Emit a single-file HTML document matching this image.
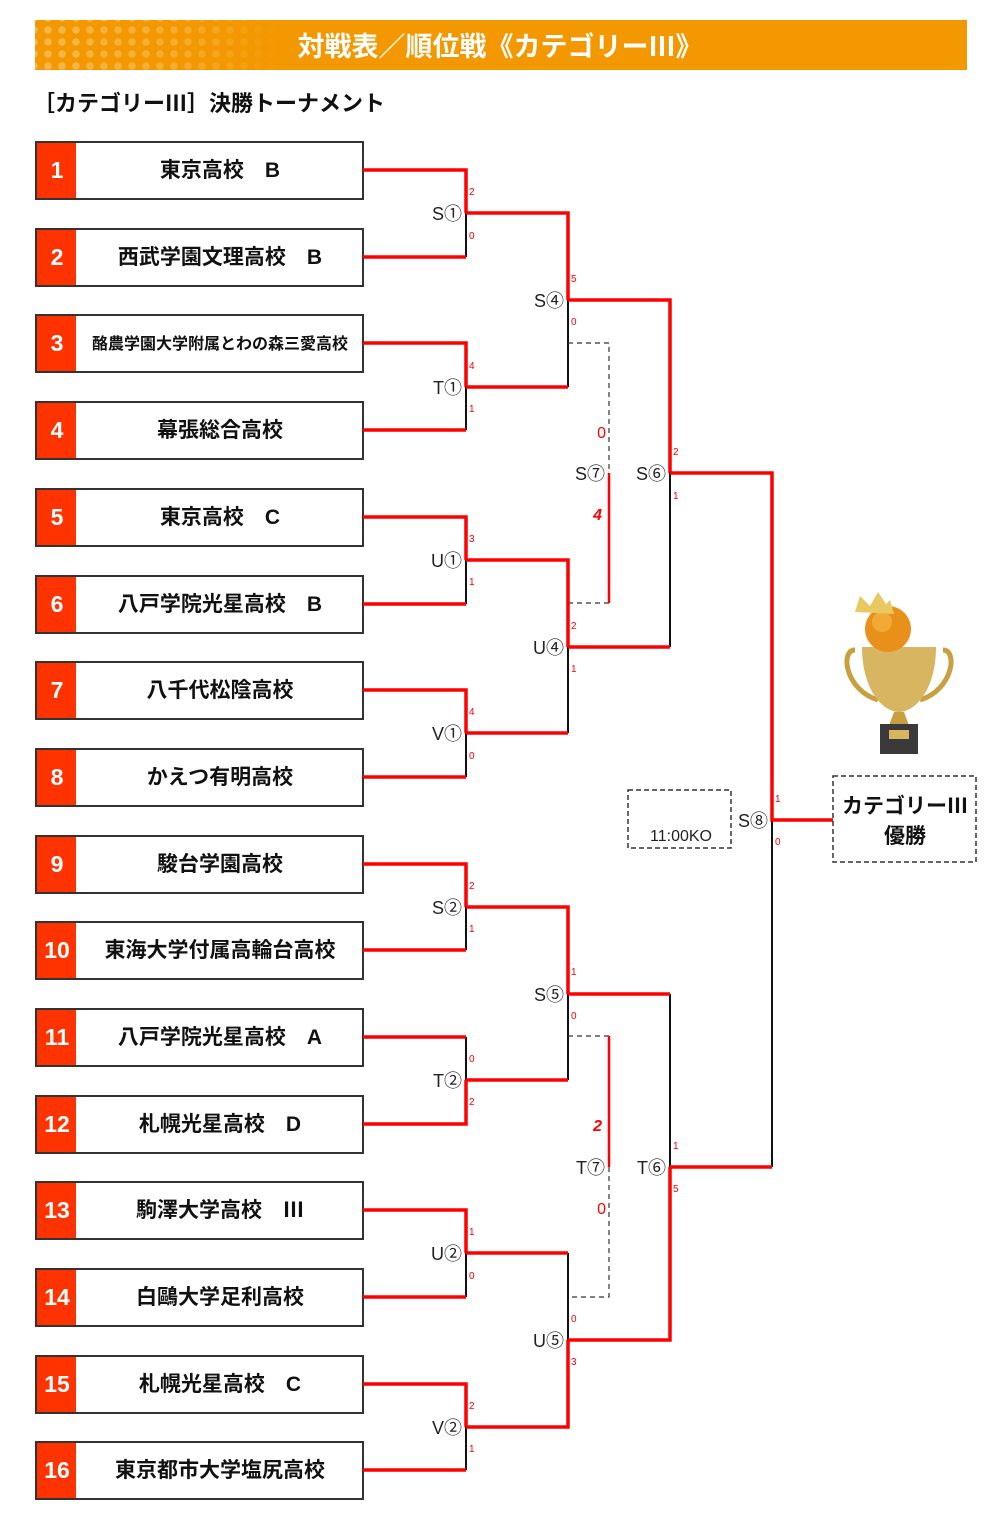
<!DOCTYPE html>
<html><head><meta charset="utf-8"><style>
body{margin:0;background:#fff;width:1001px;height:1523px;overflow:hidden;font-family:"Liberation Sans","Noto Sans CJK JP",sans-serif}
</style></head><body>
<svg width="1001" height="1523" xmlns="http://www.w3.org/2000/svg" style="position:absolute;left:0;top:0;font-family:'Liberation Sans','Noto Sans CJK JP',sans-serif">
<defs>
<pattern id="dots" width="14" height="12" patternUnits="userSpaceOnUse"><circle cx="6" cy="6" r="3.8" fill="#f7b84a"/></pattern>
<linearGradient id="fade" x1="0" x2="1"><stop offset="0" stop-color="#fff" stop-opacity="1"/><stop offset="0.6" stop-color="#fff" stop-opacity="0.6"/><stop offset="1" stop-color="#fff" stop-opacity="0"/></linearGradient>
<mask id="m"><rect x="35" y="20" width="250" height="50" fill="url(#fade)"/></mask>
</defs>
<rect x="35" y="20" width="932" height="50" fill="#f39800"/>
<rect x="35" y="20" width="250" height="50" fill="url(#dots)" mask="url(#m)"/>
<text x="500" y="56" font-size="27" font-weight="bold" fill="#fff" text-anchor="middle">対戦表／順位戦《カテゴリーⅢ》</text>
<text x="33" y="111" font-size="22" font-weight="bold" fill="#111">［カテゴリーⅢ］決勝トーナメント</text>
<g id="boxes" font-weight="bold">
<g fill="#fff" stroke="#333" stroke-width="2">
<rect x="36" y="142" width="327" height="57"/><rect x="36" y="229" width="327" height="57"/><rect x="36" y="315" width="327" height="57"/><rect x="36" y="402" width="327" height="57"/>
<rect x="36" y="489" width="327" height="57"/><rect x="36" y="576" width="327" height="57"/><rect x="36" y="662" width="327" height="57"/><rect x="36" y="749" width="327" height="57"/>
<rect x="36" y="836" width="327" height="57"/><rect x="36" y="922" width="327" height="57"/><rect x="36" y="1009" width="327" height="57"/><rect x="36" y="1096" width="327" height="57"/>
<rect x="36" y="1182" width="327" height="57"/><rect x="36" y="1269" width="327" height="57"/><rect x="36" y="1356" width="327" height="57"/><rect x="36" y="1442" width="327" height="57"/>
</g>
<g fill="#ff3300">
<rect x="37" y="143" width="39" height="55"/><rect x="37" y="230" width="39" height="55"/><rect x="37" y="316" width="39" height="55"/><rect x="37" y="403" width="39" height="55"/>
<rect x="37" y="490" width="39" height="55"/><rect x="37" y="577" width="39" height="55"/><rect x="37" y="663" width="39" height="55"/><rect x="37" y="750" width="39" height="55"/>
<rect x="37" y="837" width="39" height="55"/><rect x="37" y="923" width="39" height="55"/><rect x="37" y="1010" width="39" height="55"/><rect x="37" y="1097" width="39" height="55"/>
<rect x="37" y="1183" width="39" height="55"/><rect x="37" y="1270" width="39" height="55"/><rect x="37" y="1357" width="39" height="55"/><rect x="37" y="1443" width="39" height="55"/>
</g>
<g fill="#fff" font-size="23" text-anchor="middle">
<text x="57" y="178">1</text><text x="57" y="265">2</text><text x="57" y="351">3</text><text x="57" y="438">4</text>
<text x="57" y="525">5</text><text x="57" y="612">6</text><text x="57" y="698">7</text><text x="57" y="785">8</text>
<text x="57" y="872">9</text><text x="57" y="958">10</text><text x="57" y="1045">11</text><text x="57" y="1132">12</text>
<text x="57" y="1218">13</text><text x="57" y="1305">14</text><text x="57" y="1392">15</text><text x="57" y="1478">16</text>
</g>
<g fill="#111" font-size="21" text-anchor="middle">
<text x="220" y="177">東京高校　B</text><text x="220" y="264">西武学園文理高校　B</text>
<text x="220" y="349" font-size="16">酪農学園大学附属とわの森三愛高校</text><text x="220" y="437">幕張総合高校</text>
<text x="220" y="524">東京高校　C</text><text x="220" y="611">八戸学院光星高校　B</text>
<text x="220" y="697">八千代松陰高校</text><text x="220" y="784">かえつ有明高校</text>
<text x="220" y="871">駿台学園高校</text><text x="220" y="957">東海大学付属高輪台高校</text>
<text x="220" y="1044">八戸学院光星高校　A</text><text x="220" y="1131">札幌光星高校　D</text>
<text x="220" y="1217">駒澤大学高校　Ⅲ</text><text x="220" y="1304">白鷗大学足利高校</text>
<text x="220" y="1391">札幌光星高校　C</text><text x="220" y="1477">東京都市大学塩尻高校</text>
</g>
</g>
<g stroke="#111" stroke-width="2" fill="none">
<path d="M466 213V257M466 387V430M466 560V604M466 733V777M466 907V950M466 1037V1080M466 1253V1297M466 1427V1470"/>
<path d="M568 300V387M568 647V733M568 994V1080M568 1253V1340"/>
<path d="M670 473V647M670 994V1167"/>
<path d="M772 820V1167"/>
</g>
<g stroke="#333" stroke-width="1.2" fill="none" stroke-dasharray="5,4">
<path d="M568 343H609V473M568 603H609M568 1036H609M609 1167V1297H568"/>
</g>
<g stroke="#f00" stroke-width="3.5" fill="none">
<path d="M363 170H466V213M363 257H466M363 343H466V387M363 430H466M363 517H466V560M363 604H466M363 690H466V733M363 777H466"/>
<path d="M363 864H466V907M363 950H466M363 1037H466M363 1124H466V1080M363 1210H466V1253M363 1297H466M363 1384H466V1427M363 1470H466"/>
<path d="M466 213H568V300M466 387H568M466 560H568V647M466 733H568M466 907H568V994M466 1080H568M466 1253H568M466 1427H568V1340"/>
<path d="M568 300H670V473M568 647H670M568 994H670M568 1340H670V1167"/>
<path d="M670 473H772V820H833M670 1167H772"/>
<path d="M609 473V603M609 1036V1167" stroke-width="2.5"/>
</g>
<g font-size="18" fill="#222" text-anchor="end">
<text x="462" y="220">S①</text><text x="462" y="394">T①</text><text x="462" y="567">U①</text><text x="462" y="740">V①</text>
<text x="462" y="914">S②</text><text x="462" y="1087">T②</text><text x="462" y="1260">U②</text><text x="462" y="1434">V②</text>
<text x="564" y="307">S④</text><text x="564" y="654">U④</text><text x="564" y="1001">S⑤</text><text x="564" y="1347">U⑤</text>
<text x="605" y="480">S⑦</text><text x="666" y="480">S⑥</text><text x="605" y="1174">T⑦</text><text x="666" y="1174">T⑥</text>
<text x="768" y="827">S⑧</text>
</g>
<g font-size="10" fill="#f00">
<text x="469" y="195">2</text><text x="469" y="239">0</text><text x="469" y="369">4</text><text x="469" y="412">1</text>
<text x="469" y="542">3</text><text x="469" y="585">1</text><text x="469" y="715">4</text><text x="469" y="759">0</text>
<text x="469" y="889">2</text><text x="469" y="932">1</text><text x="469" y="1062">0</text><text x="469" y="1105">2</text>
<text x="469" y="1235">1</text><text x="469" y="1279">0</text><text x="469" y="1409">2</text><text x="469" y="1452">1</text>
<text x="571" y="282">5</text><text x="571" y="325">0</text><text x="571" y="629">2</text><text x="571" y="672">1</text>
<text x="571" y="975">1</text><text x="571" y="1019">0</text><text x="571" y="1322">0</text><text x="571" y="1365">3</text>
<text x="673" y="455">2</text><text x="673" y="499">1</text><text x="673" y="1149">1</text><text x="673" y="1192">5</text>
<text x="775" y="802">1</text><text x="775" y="845">0</text>
</g>
<g font-size="16" fill="#f00" text-anchor="end">
<text x="606" y="438">0</text><text x="602" y="520" font-weight="bold" font-style="italic">4</text>
<text x="602" y="1131" font-weight="bold" font-style="italic">2</text><text x="606" y="1214">0</text>
</g>
<rect x="628" y="790" width="103" height="58" fill="none" stroke="#333" stroke-width="1.5" stroke-dasharray="5,3"/>
<text x="681" y="841" font-size="16" fill="#222" text-anchor="middle">11:00KO</text>
<rect x="833" y="776" width="143" height="86" fill="none" stroke="#333" stroke-width="1.5" stroke-dasharray="5,3"/>
<text x="905" y="813" font-size="21" font-weight="bold" fill="#111" text-anchor="middle">カテゴリーⅢ</text>
<text x="905" y="843" font-size="21" font-weight="bold" fill="#111" text-anchor="middle">優勝</text>
<g>
<path d="M855 650C840 650 845 690 878 700M943 650C958 650 953 690 920 700" stroke="#c9a040" stroke-width="5" fill="none"/>
<path d="M862 647H936C936 690 915 712 899 712C883 712 862 690 862 647Z" fill="#d8b560"/>
<path d="M894 712H904L910 728H888Z" fill="#c9a040"/>
<rect x="880" y="724" width="38" height="30" fill="#3a3a3a"/>
<rect x="889" y="730" width="20" height="9" fill="#d8b560"/>
<circle cx="888" cy="629" r="23" fill="#e8901a"/>
<circle cx="882" cy="622" r="10" fill="#f5b640" opacity=".7"/>
<path d="M855 612L860 596L870 606L878 592L886 604L890 600L894 614Z" fill="#e8c860"/>
</g>
</svg>
</body></html>
